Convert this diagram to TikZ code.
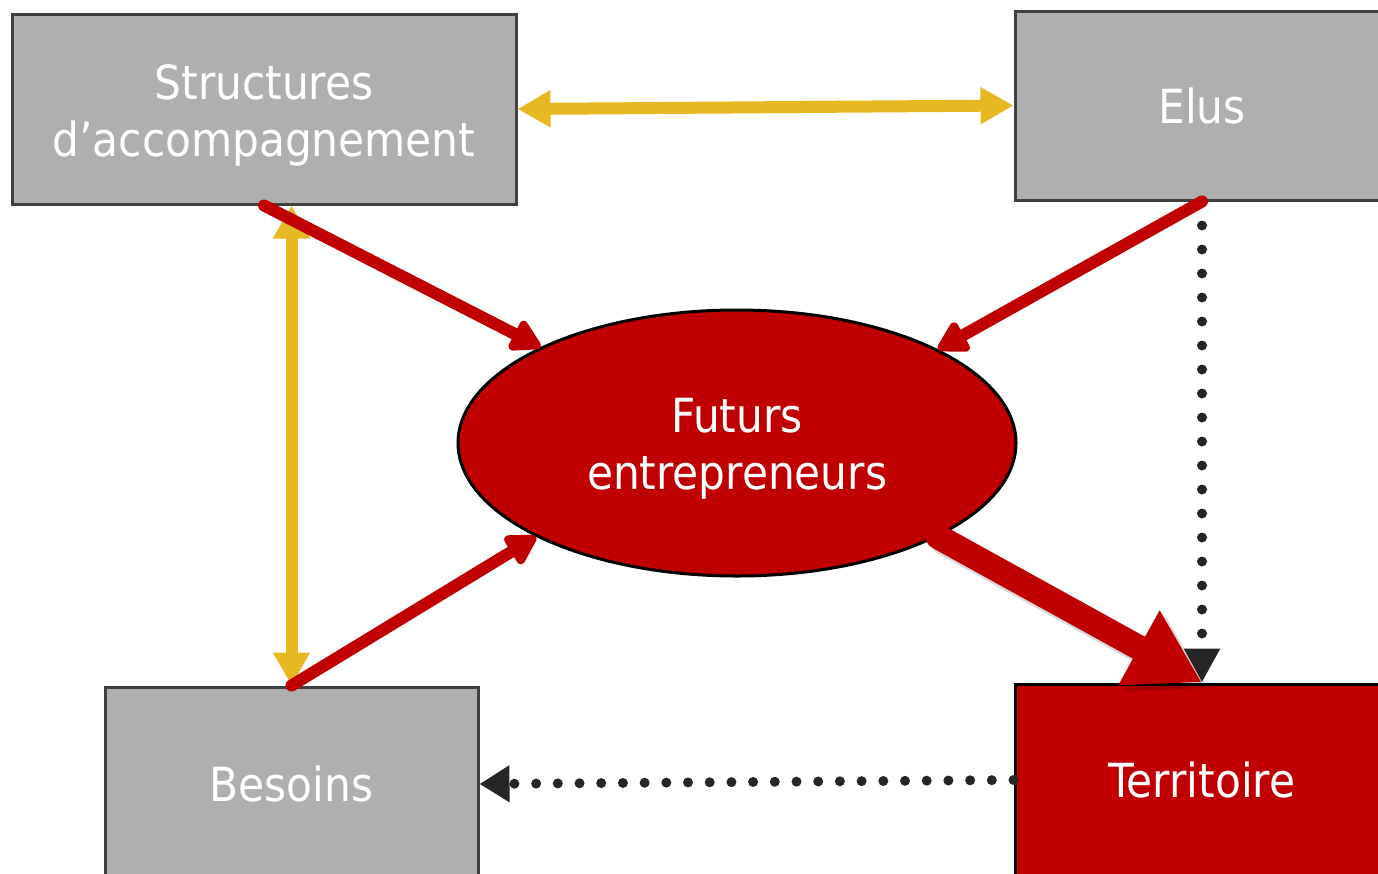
\documentclass[tikz,border=0pt]{standalone}
\usepackage{fontspec}
\setmainfont{DejaVu Sans Condensed}
\usetikzlibrary{arrows.meta,shapes.geometric}
\definecolor{boxgray}{HTML}{AFAFAF}
\definecolor{boxline}{HTML}{404040}
\definecolor{darkred}{HTML}{C00000}
\definecolor{gold}{HTML}{E6B821}
\definecolor{dotcol}{HTML}{262626}
\tikzset{
  txt/.style={text=white, font=\fontsize{47}{57}\selectfont, align=center, inner sep=0pt},
  graybox/.style={txt, rectangle, fill=boxgray, draw=boxline, line width=3pt},
  redbox/.style={txt, rectangle, fill=darkred, draw=black, line width=3pt},
  redell/.style={txt, ellipse, fill=darkred, draw=black, line width=3pt, minimum width=558pt, minimum height=266pt},
  twoline/.style={label={[txt, yshift=-6pt]center:#1}},
  goldarrow/.style={draw=gold, line width=12pt, {Triangle[length=33pt,width=35pt]}-{Triangle[length=33pt,width=35pt]}},
  redarrow/.style={draw=darkred, line width=12pt, line cap=round, -{Triangle[length=34pt,width=36pt,round=false]}},
  bigarrow/.style={draw=darkred, line width=25pt, line cap=round, -{Triangle[length=72pt,width=80pt]}},
  dotvert/.style={draw=dotcol, line width=10pt, line cap=round, dash pattern=on 0pt off 24pt, -{Triangle[length=34pt,width=34pt]}},
  dothorz/.style={draw=dotcol, line width=10pt, line cap=round, dash pattern=on 0pt off 21.7pt, -{Triangle[length=30pt,width=35pt]}},
}
\begin{document}
\begin{tikzpicture}[x=1pt,y=-1pt]
\useasboundingbox (0,0) rectangle (1378,873);
\clip (0,0) rectangle (1378,873);
\node[graybox, minimum width=504pt, minimum height=190pt, twoline={Structures\\d’accompagnement}] (S) at (264,109) {};
\node[graybox, minimum width=374pt, minimum height=189pt] (E) at (1202,105.5) {Elus};
\node[graybox, minimum width=373pt, minimum height=194pt] (B) at (291.5,784) {Besoins};
\node[redbox, minimum width=374pt, minimum height=192pt] (T) at (1202,780) {Territoire};
\node[redell, twoline={Futurs\\entrepreneurs}] (F) at (737,443) {};
% gold double arrows
\draw[goldarrow] (S.east) -- (E.west);
\coordinate (Stop) at (B.north |- S.south);
\draw[goldarrow] (Stop) -- (B.north);
% dotted connectors
\draw[dotvert] (E.south) -- (T.north);
\draw[dothorz] (T.west) -- (B.east);
% red arrows
\draw[redarrow] (S.south) -- (F.154.3);
\draw[redarrow] (E.south) -- (F.25.2);
\draw[redarrow] (B.north) -- (F.205.7);
% big arrow with soft shadow
\coordinate (Bs) at (F.335.2);
\draw[bigarrow, draw=black, opacity=0.15, transform canvas={shift={(6pt,-6pt)}}] (Bs) -- (T.north);
\draw[bigarrow] (Bs) -- (T.north);
\end{tikzpicture}
\end{document}
